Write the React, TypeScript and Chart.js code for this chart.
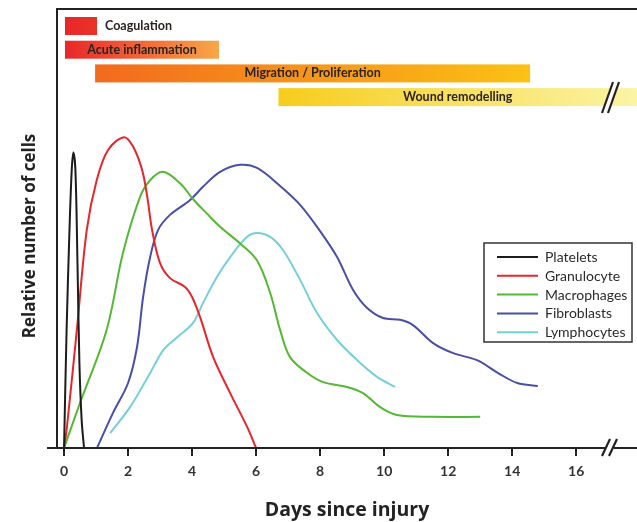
import React, { useEffect, useRef } from "react";
import { Chart, registerables } from "chart.js";

Chart.register(...registerables);

// ---- data ----
const seriesNames = ["Platelets", "Granulocyte", "Macrophages", "Fibroblasts", "Lymphocytes"];
const seriesColors = ["#1c1c1c", "#e8242c", "#55b834", "#4a4ea6", "#74d0d8"];

const platelets: number[][] = [
  [0.0, 0], [0.08, 26.9], [0.17, 49.7], [0.24, 63.3], [0.29, 67.3], [0.355, 63.3],
  [0.42, 42.1], [0.48, 19.4], [0.55, 6.4], [0.625, 0],
];
const granulocyte: number[][] = [
  [0, 0], [0.08, 4.1], [0.4, 26.9], [0.71, 49.7], [1.02, 61], [1.375, 67.9], [1.875, 70.8],
  [2.16, 68.6], [2.44, 63.3], [2.6, 57.2], [2.75, 49.7], [3.0, 42.1], [3.31, 38.7],
  [3.78, 36.7], [4.0, 34.4], [4.25, 29.8], [4.66, 20.7], [5.19, 12.5], [5.72, 4.8], [6.0, 0],
];
const macrophages: number[][] = [
  [0, 0], [0.5, 10.3], [1.33, 26.9], [1.84, 44.4], [2.375, 57.2], [2.69, 61], [3.09, 62.9],
  [3.625, 60.3], [4.04, 56.6], [4.45, 53.5], [4.875, 50.4], [5.5, 46.6], [6.03, 42.7], [6.44, 35.3],
  [6.75, 26.9], [7.06, 20.7], [7.6, 17.1], [8.1, 15.0], [8.84, 13.9], [9.34, 12.5],
  [9.875, 9.3], [10.4, 7.5], [11.53, 7.1], [13.0, 7.1],
];
const fibroblasts: number[][] = [
  [1.03, 0], [1.53, 8.0], [2.0, 14.8], [2.28, 23.0], [2.47, 34.4], [2.69, 43.5], [2.94, 49.7],
  [3.31, 53.1], [3.94, 56.5], [4.34, 59.5], [4.875, 62.9], [5.5, 64.5], [6.03, 63.8],
  [6.75, 59.7], [7.375, 55.4], [8.0, 49.4], [8.53, 43.5], [9.03, 36.0], [9.47, 31.9],
  [9.97, 29.6], [10.5, 29.2], [10.9, 28.0], [11.53, 23.9], [12.16, 21.6], [12.9, 20.0],
  [13.6, 16.9], [14.16, 14.8], [14.8, 14.1],
];
const lymphocytes: number[][] = [
  [1.44, 3.4], [2.06, 9.3], [2.69, 17.1], [3.1, 22.3], [3.5, 25.0], [4.03, 28.5],
  [4.34, 33.0], [4.78, 39.0], [5.19, 43.5], [5.72, 48.1], [6.03, 49.0], [6.44, 48.1], [6.84, 45.1],
  [7.375, 38.3], [7.9, 30.8], [8.53, 24.6], [9.16, 20.0], [9.78, 16.2], [10.34, 13.9],
];
const seriesData = [platelets, granulocyte, macrophages, fibroblasts, lymphocytes];

const xTickValues = [0, 2, 4, 6, 8, 10, 12, 14, 16];

const phaseNames = ["Coagulation", "Acute inflammation", "Migration / Proliferation", "Wound remodelling"];
const phaseStart = [0.03, 0.03, 0.97, 6.7];
const phaseEnd = [1.03, 4.84, 14.56, 19];
const phaseColors = [
  ["#e8262a", "#ea3328"],
  ["#e8262a", "#f7a847"],
  ["#f26a1e", "#fbc214"],
  ["#f6cd1c", "#fbf4a6"],
];

const FONT = "Lato, 'Open Sans', sans-serif";
const TFONT = "'Open Sans', sans-serif";

const decorPlugin = {
  id: "decor",
  beforeDatasetsDraw(chart: any) {
    const { ctx, chartArea, scales } = chart;
    const x = scales.x;
    ctx.save();
    phaseNames.forEach((name, i) => {
      const x0 = x.getPixelForValue(phaseStart[i]);
      const x1 = Math.min(x.getPixelForValue(phaseEnd[i]), chartArea.right);
      const top = chartArea.top + 8 + i * 23.7;
      const h = 18;
      const g = ctx.createLinearGradient(x0, 0, x1, 0);
      g.addColorStop(0, phaseColors[i][0]);
      g.addColorStop(1, phaseColors[i][1]);
      ctx.fillStyle = g;
      ctx.fillRect(x0, top, x1 - x0, h);
      ctx.font = `bold 12.5px ${FONT}`;
      ctx.fillStyle = "#2a2320";
      ctx.textBaseline = "middle";
      if (i === 0) {
        ctx.textAlign = "left";
        ctx.fillText(name, x1 + 8, top + h / 2);
      } else {
        ctx.textAlign = "center";
        ctx.fillText(name, (x0 + x1) / 2, top + h / 2);
      }
    });
    ctx.restore();
  },
  afterDraw(chart: any) {
    const { ctx, chartArea, scales } = chart;
    const y = scales.y;
    ctx.save();
    ctx.strokeStyle = "#222";
    ctx.lineWidth = 2;
    const base = y.getPixelForValue(0);
    // top border
    ctx.beginPath();
    ctx.moveTo(chartArea.left - 1, chartArea.top);
    ctx.lineTo(chartArea.right, chartArea.top);
    ctx.stroke();
    // x axis with break
    ctx.beginPath();
    ctx.moveTo(chartArea.left - 10, base);
    ctx.lineTo(605, base);
    ctx.moveTo(614, base);
    ctx.lineTo(chartArea.right, base);
    ctx.stroke();
    const slash = (xa: number, ya: number, xb: number, yb: number, gap: number) => {
      ctx.fillStyle = "#fff";
      ctx.beginPath();
      ctx.moveTo(xa, ya);
      ctx.lineTo(xb, yb);
      ctx.lineTo(xb + gap, yb);
      ctx.lineTo(xa + gap, ya);
      ctx.closePath();
      ctx.fill();
      ctx.lineWidth = 2.2;
      ctx.beginPath();
      ctx.moveTo(xa, ya);
      ctx.lineTo(xb, yb);
      ctx.moveTo(xa + gap, ya);
      ctx.lineTo(xb + gap, yb);
      ctx.stroke();
    };
    slash(602, base + 8, 610, base - 9, 7);
    slash(602, 113, 613, 82, 6);

    // legend
    const lx = 484, ly = 243, lw = 148, lh = 99;
    ctx.fillStyle = "#fff";
    ctx.fillRect(lx, ly, lw, lh);
    ctx.lineWidth = 1.5;
    ctx.strokeStyle = "#333";
    ctx.strokeRect(lx, ly, lw, lh);
    ctx.font = `14px ${FONT}`;
    ctx.textAlign = "left";
    ctx.textBaseline = "middle";
    seriesNames.forEach((name, i) => {
      const cy = ly + 14 + i * 18.8;
      ctx.strokeStyle = seriesColors[i];
      ctx.lineWidth = 2;
      ctx.beginPath();
      ctx.moveTo(497, cy);
      ctx.lineTo(538, cy);
      ctx.stroke();
      ctx.fillStyle = "#2b2b2b";
      ctx.fillText(name, 545, cy + 0.5);
    });

    // y title
    ctx.save();
    ctx.translate(30, 236);
    ctx.rotate(-Math.PI / 2);
    ctx.font = `bold 17px ${TFONT}`;
    ctx.fillStyle = "#222";
    ctx.textAlign = "center";
    ctx.textBaseline = "middle";
    ctx.fillText("Relative number of cells", 0, 0);
    ctx.restore();
    ctx.restore();
  },
};

export default function App() {
  const ref = useRef<HTMLCanvasElement>(null);
  useEffect(() => {
    document.body.style.margin = "0";
    const canvas = ref.current!;
    const chart = new Chart(canvas, {
      type: "line",
      data: {
        datasets: seriesNames.map((name, i) => ({
          label: name,
          data: seriesData[i].map(([x, y]) => ({ x, y })),
          borderColor: seriesColors[i],
          backgroundColor: seriesColors[i],
          borderWidth: 2,
          pointRadius: 0,
          tension: 0.35,
          fill: false,
        })),
      },
      options: {
        responsive: false,
        animation: false,
        layout: { padding: { top: 9, left: 0, right: 0, bottom: 0 } },
        plugins: { legend: { display: false }, tooltip: { enabled: false } },
        scales: {
          x: {
            type: "linear",
            min: -0.22,
            max: 17.9,
            afterFit: (s: any) => { s.height = 74; },
            afterBuildTicks: (s: any) => { s.ticks = xTickValues.map((v) => ({ value: v })); },
            grid: { drawOnChartArea: false, drawTicks: true, tickLength: 8, color: "#222", lineWidth: 2 },
            border: { display: false },
            ticks: {
              font: { family: FONT, weight: "bold", size: 14 },
              color: "#333",
              padding: 7,
              maxRotation: 0,
              autoSkip: false,
            },
            title: {
              display: true,
              text: "Days since injury",
              font: { family: TFONT, weight: "bold", size: 19.5 },
              color: "#222",
              padding: { top: 0, bottom: 0 },
            },
          },
          y: {
            type: "linear",
            min: 0,
            max: 100,
            afterFit: (s: any) => { s.width = 57; },
            grid: { display: false },
            border: { display: true, color: "#222", width: 2 },
            ticks: { display: false },
          },
        },
      },
      plugins: [decorPlugin],
    });
    return () => chart.destroy();
  }, []);
  return <canvas ref={ref} width={637} height={522} style={{ display: "block" }} />;
}
